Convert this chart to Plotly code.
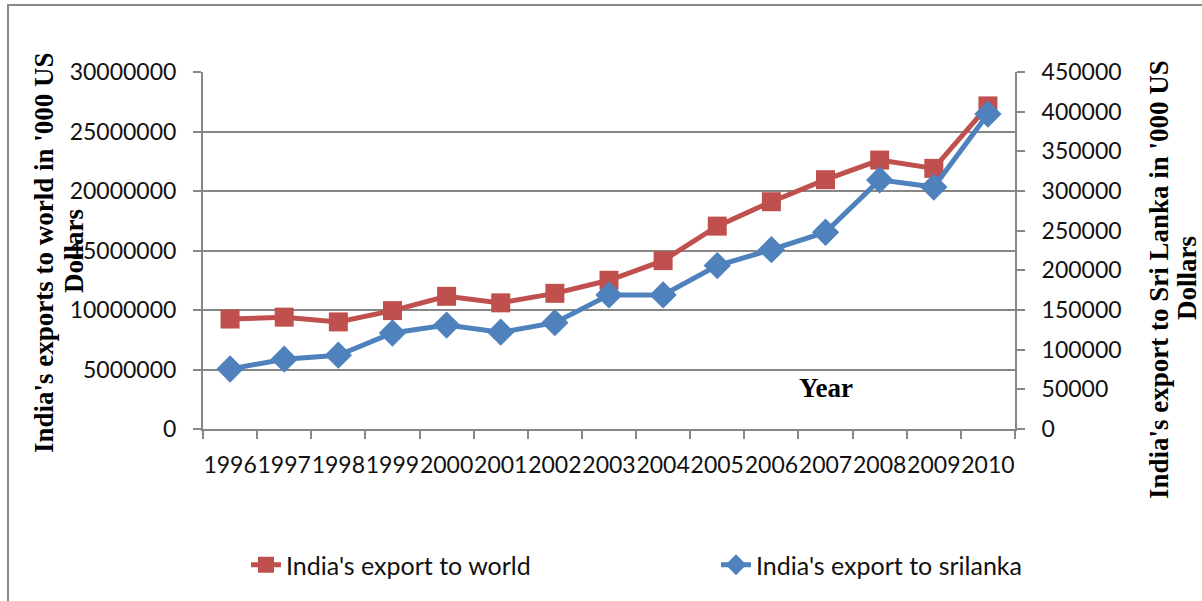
import plotly.graph_objects as go

years = ["1996", "1997", "1998", "1999", "2000", "2001", "2002", "2003",
         "2004", "2005", "2006", "2007", "2008", "2009", "2010"]
world = [9240000, 9400000, 9000000, 9950000, 11150000, 10600000, 11400000, 12500000,
         14150000, 17050000, 19100000, 20950000, 22600000, 21900000, 27150000]
srilanka = [75600, 88000, 93000, 121000, 131000, 122000, 134000, 169000,
            169000, 206000, 226000, 248000, 314000, 305000, 397000]

left_ticks = [0, 5000000, 10000000, 15000000, 20000000, 25000000, 30000000]
right_ticks = [0, 50000, 100000, 150000, 200000, 250000, 300000, 350000, 400000, 450000]

RED = "#C0504D"
BLUE = "#4F81BD"
GRAY = "#878787"
TICKFONT = dict(family="Lato", size=23, color="#111111")
TITLEFONT = dict(family="Liberation Serif", size=27, color="#000000")

W, H = 1202, 601
L, R, T, B = 203, 1015, 72, 429

def px(x):
    return (x - L) / (R - L)

def py(y):
    return (B - y) / (B - T)

fig = go.Figure()
fig.add_trace(go.Scatter(
    x=years, y=world, name="India's export to world", mode="lines+markers",
    line=dict(color=RED, width=5),
    marker=dict(symbol="square", size=19, color=RED),
    yaxis="y", legend="legend"))
fig.add_trace(go.Scatter(
    x=years, y=srilanka, name="India's export to srilanka", mode="lines+markers",
    line=dict(color=BLUE, width=5),
    marker=dict(symbol="diamond", size=21, color=BLUE),
    yaxis="y2", legend="legend2"))

LEGFONT = dict(family="Lato", size=25, color="#111111")

fig.update_layout(
    width=W, height=H,
    margin=dict(l=L, r=W - R, t=T, b=H - B, autoexpand=False),
    paper_bgcolor="white", plot_bgcolor="white",
    showlegend=True,
    legend=dict(orientation="h", x=px(246), y=py(565), xanchor="left", yanchor="middle",
                font=LEGFONT, bgcolor="rgba(0,0,0,0)"),
    legend2=dict(orientation="h", x=px(716), y=py(565), xanchor="left", yanchor="middle",
                 font=LEGFONT, bgcolor="rgba(0,0,0,0)"),
    xaxis=dict(type="category", categoryorder="array", categoryarray=years,
               range=[-0.5, len(years) - 0.5], autorange=False,
               tickvals=years, ticktext=years, tickangle=0,
               showline=True, linecolor=GRAY, linewidth=2,
               ticks="outside", ticklen=8, tickcolor=GRAY, tickwidth=1.5,
               tickson="boundaries", showgrid=False, zeroline=False,
               tickfont=TICKFONT, ticklabelstandoff=14),
    yaxis=dict(range=[0, 30000000], tickvals=left_ticks,
               ticktext=[str(v) for v in left_ticks],
               showline=True, linecolor=GRAY, linewidth=2,
               ticks="outside", ticklen=8, tickcolor=GRAY, tickwidth=1.5,
               showgrid=True, gridcolor=GRAY, gridwidth=1.5, zeroline=False,
               tickfont=TICKFONT, ticklabelstandoff=12),
    yaxis2=dict(range=[0, 450000], tickvals=right_ticks,
                ticktext=[str(v) for v in right_ticks],
                overlaying="y", side="right",
                showline=True, linecolor=GRAY, linewidth=2,
                ticks="outside", ticklen=8, tickcolor=GRAY, tickwidth=1.5,
                showgrid=False, zeroline=False,
                tickfont=TICKFONT, ticklabelstandoff=12),
    shapes=[dict(type="rect", xref="paper", yref="paper",
                 x0=px(8), x1=px(1240), y0=py(5), y1=py(640),
                 line=dict(color=GRAY, width=2), fillcolor="rgba(0,0,0,0)", layer="below")],
    annotations=[
        dict(text="<b>India's exports to world in '000 US</b>",
             xref="paper", yref="paper", x=px(44), y=py(253),
             xanchor="center", yanchor="middle", textangle=-90, showarrow=False,
             font=TITLEFONT),
        dict(text="<b>Dollars</b>",
             xref="paper", yref="paper", x=px(74), y=py(251),
             xanchor="center", yanchor="middle", textangle=-90, showarrow=False,
             font=TITLEFONT),
        dict(text="<b>India's export to Sri Lanka in '000 US</b>",
             xref="paper", yref="paper", x=px(1159), y=py(280),
             xanchor="center", yanchor="middle", textangle=-90, showarrow=False,
             font=TITLEFONT),
        dict(text="<b>Dollars</b>",
             xref="paper", yref="paper", x=px(1187), y=py(278),
             xanchor="center", yanchor="middle", textangle=-90, showarrow=False,
             font=TITLEFONT),
        dict(text="<b>Year</b>", xref="paper", yref="paper", x=px(826), y=py(388),
             xanchor="center", yanchor="middle", showarrow=False, font=TITLEFONT),
    ],
)

fig.write_html("out.html", config={"displayModeBar": False},
               post_script="document.body.style.margin='0';document.body.style.overflow='hidden';")
